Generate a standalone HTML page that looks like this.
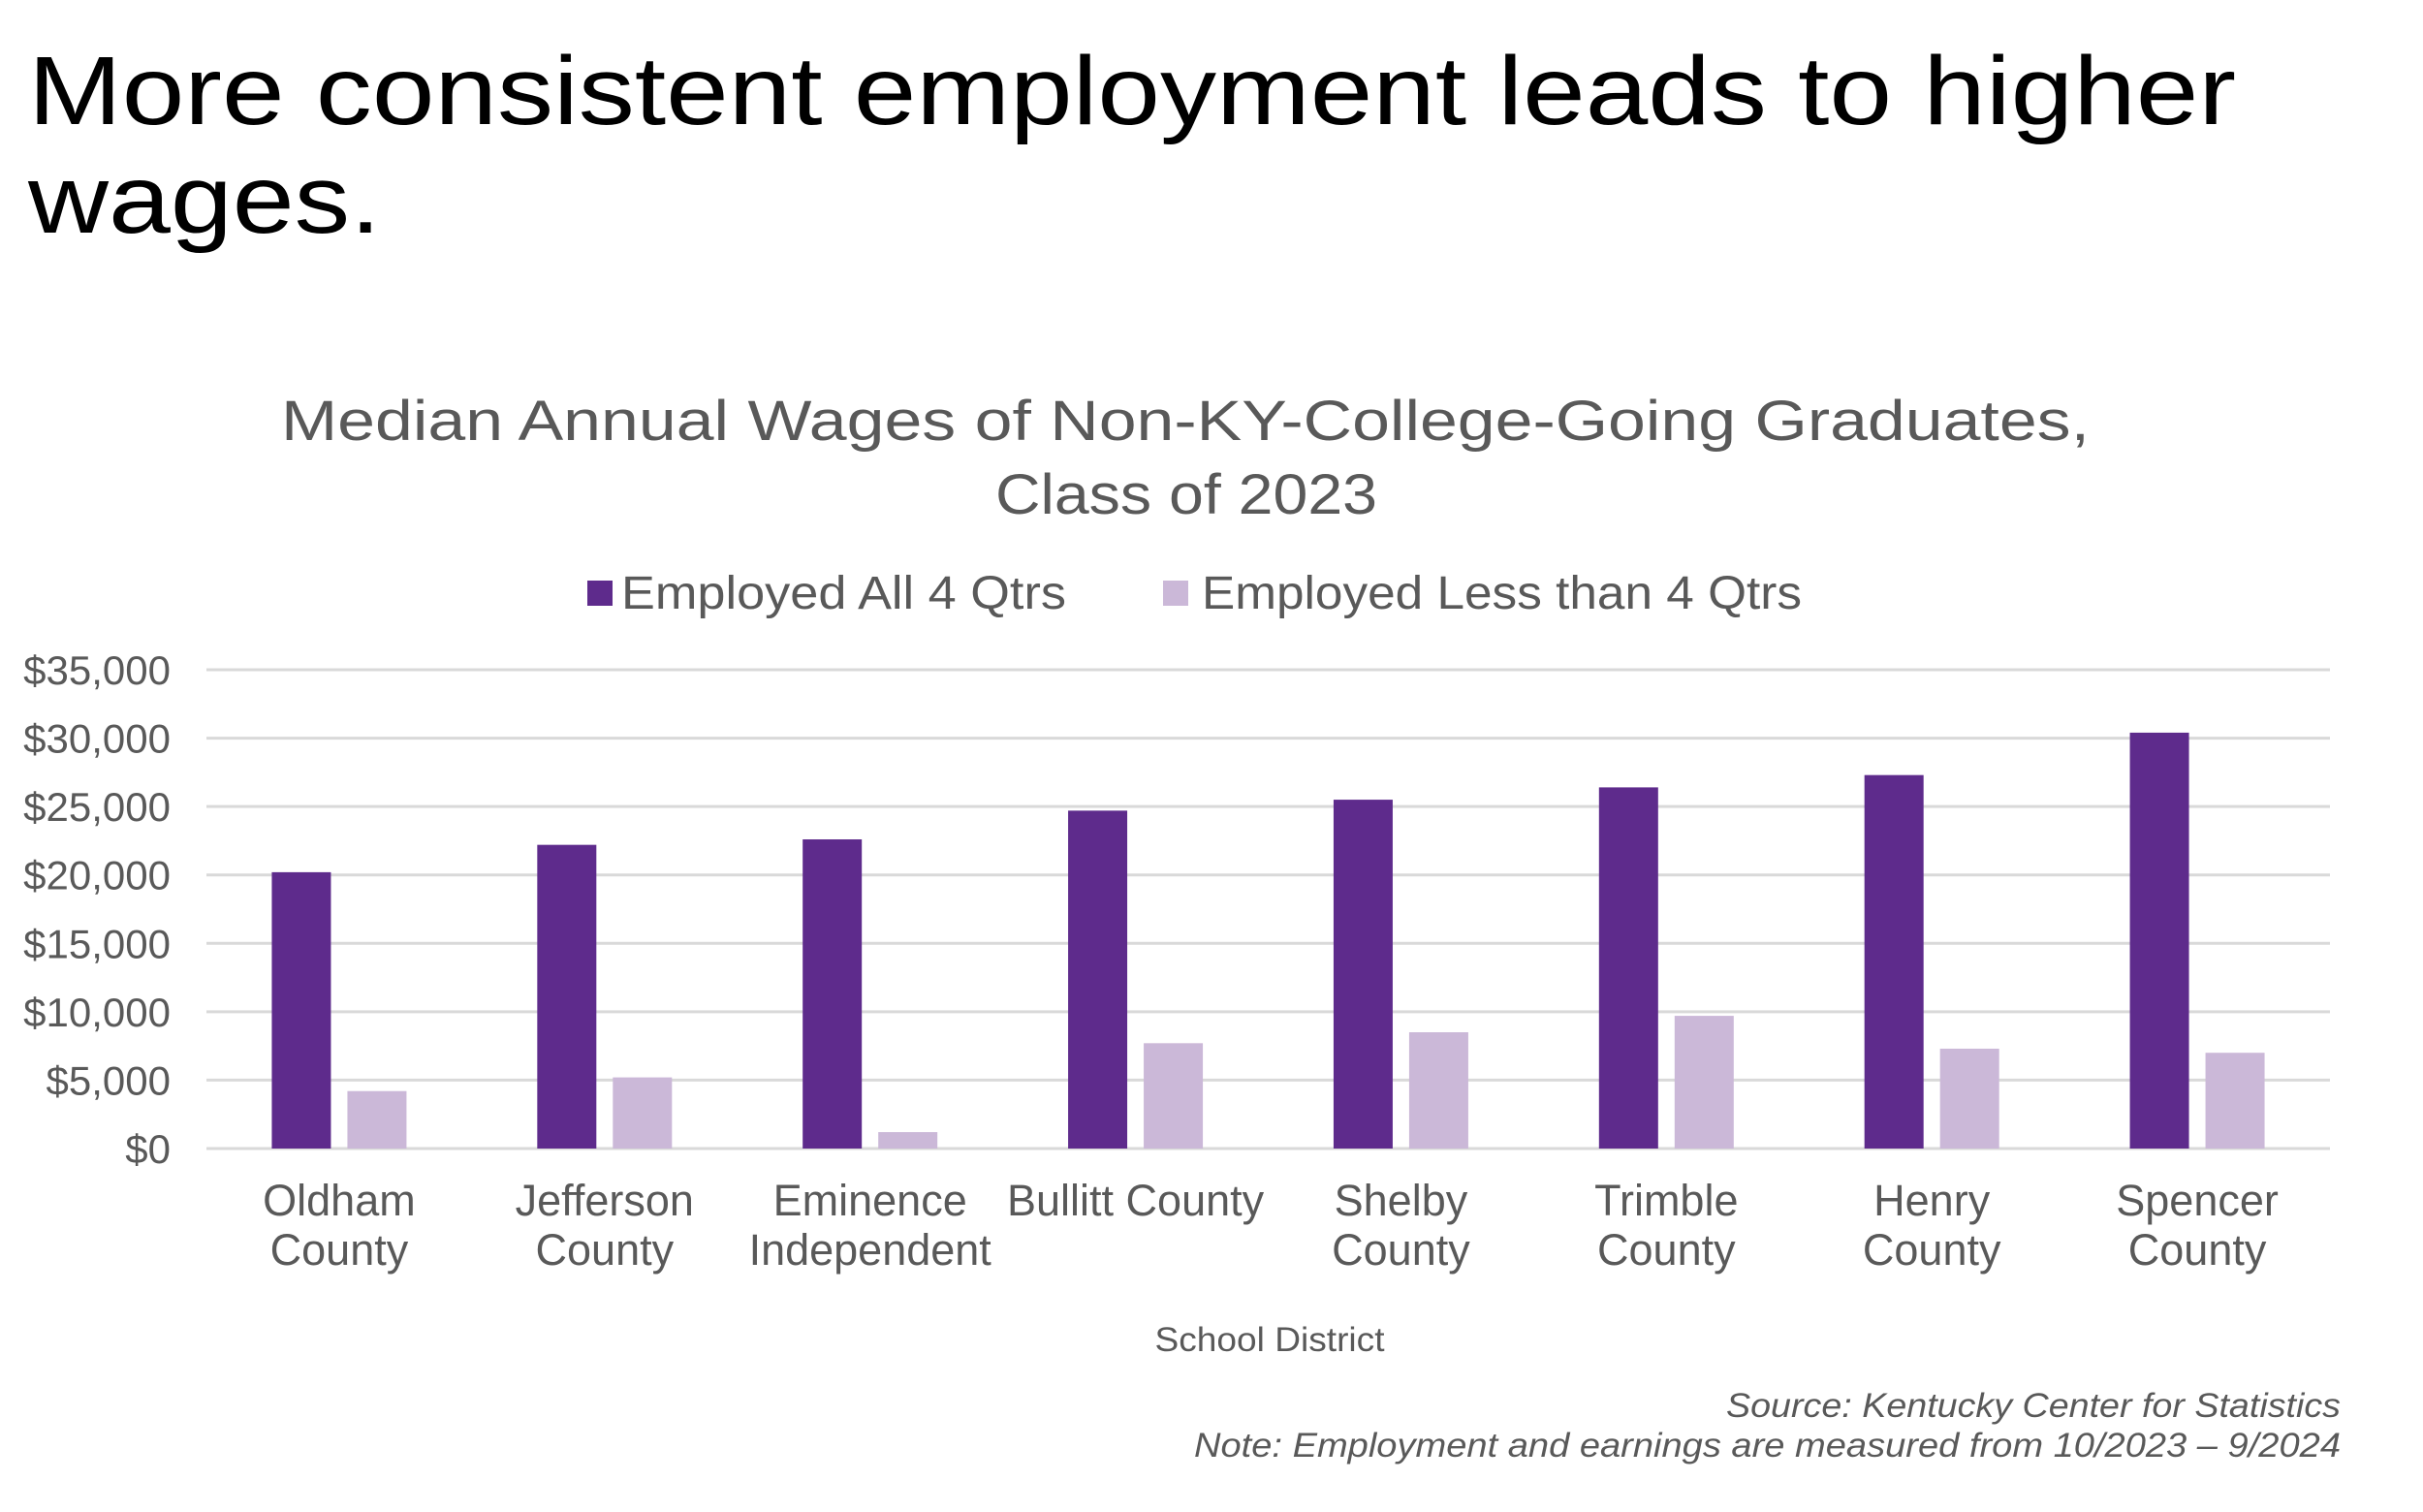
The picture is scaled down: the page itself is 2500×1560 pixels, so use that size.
<!DOCTYPE html>
<html><head><meta charset="utf-8"><style>
html,body{margin:0;padding:0;background:#fff;}
svg{display:block;font-family:"Liberation Sans",sans-serif;}
</style></head><body>
<svg id="chart" width="2500" height="1560" viewBox="0 0 2500 1560" xmlns="http://www.w3.org/2000/svg">
<text x="29" y="128" font-size="100" fill="#000" textLength="2278" lengthAdjust="spacingAndGlyphs">More consistent employment leads to higher</text>
<text x="29" y="240" font-size="100" fill="#000" textLength="364" lengthAdjust="spacingAndGlyphs">wages.</text>
<text x="290" y="454" font-size="58" fill="#595959" textLength="1866" lengthAdjust="spacingAndGlyphs">Median Annual Wages of Non-KY-College-Going Graduates,</text>
<text x="1027" y="530" font-size="58" fill="#595959" textLength="394" lengthAdjust="spacingAndGlyphs">Class of 2023</text>
<g>
<rect x="606" y="599" width="26" height="26" fill="#5E2B8C"/>
<text x="641" y="628" font-size="48" fill="#595959" textLength="459" lengthAdjust="spacingAndGlyphs">Employed All 4 Qtrs</text>
<rect x="1200" y="599" width="26" height="26" fill="#CBB8D8"/>
<text x="1240" y="628" font-size="48" fill="#595959" textLength="619" lengthAdjust="spacingAndGlyphs">Employed Less than 4 Qtrs</text>
</g>
<g id="grid"></g>
<g id="bars"></g>
<g id="labels"></g>
<text x="1310" y="1394" font-size="35" fill="#595959" text-anchor="middle" textLength="237" lengthAdjust="spacingAndGlyphs">School District</text>
<text x="2415" y="1462" font-size="35" font-style="italic" fill="#595959" text-anchor="end" textLength="634" lengthAdjust="spacingAndGlyphs">Source: Kentucky Center for Statistics</text>
<text x="2415" y="1503" font-size="35" font-style="italic" fill="#595959" text-anchor="end" textLength="1183" lengthAdjust="spacingAndGlyphs">Note: Employment and earnings are measured from 10/2023 – 9/2024</text>
</svg>
<script>
const categories = [["Oldham","County"],["Jefferson","County"],["Eminence","Independent"],["Bullitt County"],["Shelby","County"],["Trimble","County"],["Henry","County"],["Spencer","County"]];
const allQtrs = [20200, 22200, 22600, 24700, 25500, 26400, 27300, 30400];
const lessQtrs = [4200, 5200, 1200, 7700, 8500, 9700, 7300, 7000];
const yTicks = [0, 5000, 10000, 15000, 20000, 25000, 30000, 35000];
const yTickLabels = ["$0","$5,000","$10,000","$15,000","$20,000","$25,000","$30,000","$35,000"];

const NS = "http://www.w3.org/2000/svg";
const plotLeft = 213, plotRight = 2404, plotTop = 691, plotBottom = 1185, yMax = 35000;
const band = (plotRight - plotLeft) / categories.length;
const barW = 61, gap = 17;
function yScale(v){ return plotBottom - (v / yMax) * (plotBottom - plotTop); }
function xCenter(i){ return plotLeft + band * (i + 0.5); }
function mk(tag, attrs){ const e = document.createElementNS(NS, tag); for (const k in attrs) e.setAttribute(k, attrs[k]); return e; }

const grid = document.getElementById('grid');
yTicks.forEach((t, i) => {
  const l = mk('line', {x1:plotLeft, x2:plotRight, y1:yScale(t), y2:yScale(t), stroke:'#D9D9D9', 'stroke-width':3});
  
  
  grid.appendChild(l);
  const tx = mk('text', {x:176, y:yScale(t)+15, 'font-size':42, fill:'#595959', 'text-anchor':'end'});
  
  
  tx.textContent = yTickLabels[i];
  grid.appendChild(tx);
});

const bars = document.getElementById('bars');
const labels = document.getElementById('labels');
categories.forEach((c, i) => {
  const cx = xCenter(i);
  const b1 = mk('rect', {x:cx - gap/2 - barW, y:yScale(allQtrs[i]), width:barW, height:plotBottom - yScale(allQtrs[i]), fill:'#5E2B8C'});
  
  
  bars.appendChild(b1);
  const b2 = mk('rect', {x:cx + gap/2, y:yScale(lessQtrs[i]), width:barW, height:plotBottom - yScale(lessQtrs[i]), fill:'#CBB8D8'});
  
  
  bars.appendChild(b2);
  c.forEach((line, j) => {
    const t = mk('text', {x:cx, y:1254 + j*51, 'font-size':45, fill:'#595959', 'text-anchor':'middle'});
    
    
    t.textContent = line;
    labels.appendChild(t);
  });
});
</script>
</body></html>
